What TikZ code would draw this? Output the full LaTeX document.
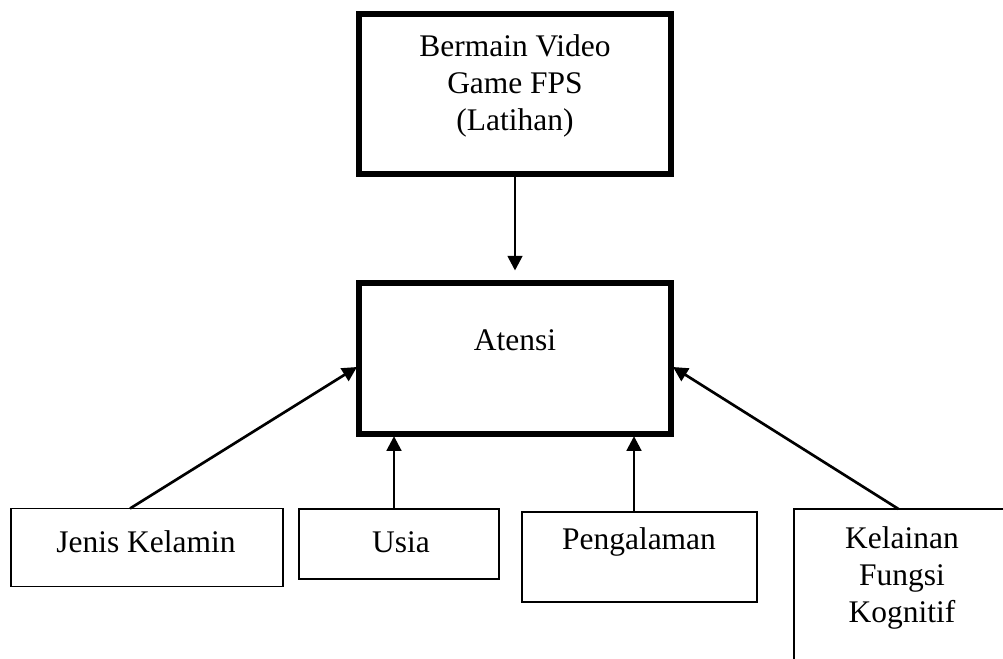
\documentclass[tikz,border=0pt]{standalone}
\usepackage{fontspec}
\setmainfont{Liberation Serif}
\usetikzlibrary{arrows.meta,calc}
\begin{document}
\begin{tikzpicture}[x=0.75pt,y=-0.75pt,
  thickbox/.style={draw,line width=4.5pt,minimum width=312*0.75pt,outer sep=0pt,inner sep=0pt},
  thinbox/.style={draw,line width=1.4pt,outer sep=0pt,inner sep=0pt},
  txt/.style={align=center,inner sep=0pt,font=\fontsize{23.6pt}{27.9pt}\selectfont},
  arr/.style={line width=2pt,-{Triangle[length=11pt,width=11pt]}}]
\clip (0,0) rectangle (1003,658);
\fill[white] (0,0) rectangle (1003,658);
% main boxes
\node[thickbox,minimum height=160*0.75pt] (top) at (515,94) {};
\node[txt] (toptxt) at (515,86) {Bermain Video\\Game FPS\\(Latihan)};
\node[thickbox,minimum height=151*0.75pt] (atensi) at (515,358) {};
\node[txt] (atensitxt) at (515,340) {Atensi};
% factor boxes
\node[thinbox,minimum width=272*0.75pt,minimum height=78*0.75pt] (jenis) at (147,547.5) {};
\node[txt] (jenistxt) at (146,542) {Jenis Kelamin};
\node[thinbox,minimum width=200*0.75pt,minimum height=70*0.75pt] (usia) at (399,544) {};
\node[txt] (usiatxt) at (401,542) {Usia};
\node[thinbox,minimum width=235*0.75pt,minimum height=90*0.75pt] (peng) at (639.5,557) {};
\node[txt] (pengtxt) at (639,542) {Pengalaman};
\node[thinbox,minimum width=219*0.75pt,minimum height=161*0.75pt] (kel) at (903.5,589.5) {};
\node[txt] (keltxt) at (902,578) {Kelainan\\Fungsi\\Kognitif};
% connectors
\draw[arr,shorten >=9pt] (top.south) -- (atensi.north);
\draw[arr] ($(jenis.north west)+(119,0)$) -- ($(atensi.west)+(-2,9)$);
\draw[arr,shorten >=2pt] ($(usia.north)+(-5,0)$) -- ($(usia.north |- atensi.south)+(-5,0)$);
\draw[arr,shorten >=2pt] ($(peng.north)+(-5.5,0)$) -- ($(peng.north |- atensi.south)+(-5.5,0)$);
\draw[arr] ($(kel.north)+(-5,0)$) -- ($(atensi.east)+(2,9)$);
\end{tikzpicture}
\end{document}
